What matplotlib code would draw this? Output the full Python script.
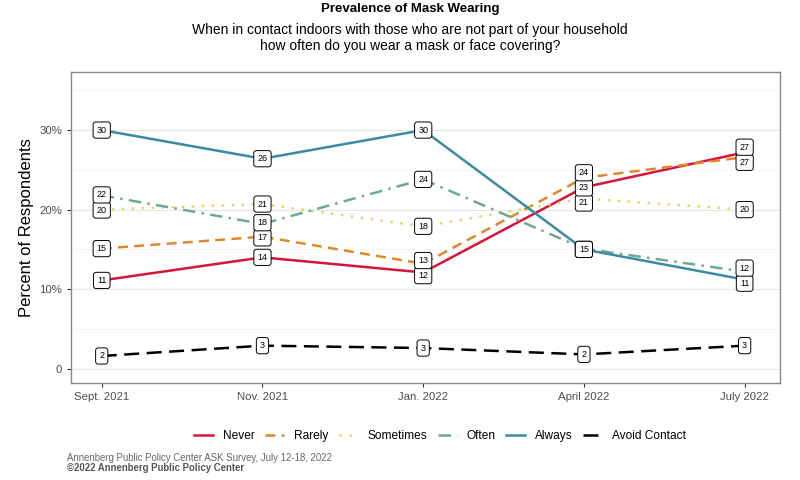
import matplotlib.pyplot as plt
import numpy as np
from matplotlib.lines import Line2D

plt.rcParams["font.family"] = ["Liberation Sans", "DejaVu Sans"]

# survey waves
waves = ["Sept. 2021", "Nov. 2021", "Jan. 2022", "April 2022", "July 2022"]

# percent of respondents per answer
never = [11.1, 14.0, 12.1, 22.8, 27.2]
rarely = [15.1, 16.6, 13.2, 24.0, 26.6]
sometimes = [20.0, 20.7, 17.9, 21.4, 20.0]
often = [21.8, 18.2, 23.8, 15.1, 12.2]
always = [30.0, 26.4, 30.0, 15.0, 11.2]
avoid = [1.6, 2.9, 2.6, 1.8, 2.9]

series = [
    ("Never", never, "#D7153A", "-"),
    ("Rarely", rarely, "#E0872B", (0, (4, 2.5))),
    ("Sometimes", sometimes, "#E3D66B", (0, (1, 3))),
    ("Often", often, "#6FA893", (0, (5, 2.5, 1, 2.5))),
    ("Always", always, "#3A8BA3", "-"),
    ("Avoid Contact", avoid, "#000000", (0, (6, 3))),
]

fig = plt.figure(figsize=(8, 4.8), dpi=100)
ax = fig.add_axes([0.089, 0.202, 0.886, 0.648])
x = np.arange(len(waves))

for name, vals, col, ls in series:
    ax.plot(x, vals, color=col, linestyle=ls, linewidth=1.8, zorder=3)

# simple label repel per wave
sep = 1.9
for i in range(len(waves)):
    pts = [(s[1][i], s[0]) for s in series]
    pts.sort()
    pos = [p[0] for p in pts]
    for _ in range(50):
        for j in range(1, len(pos)):
            gap = pos[j] - pos[j - 1]
            if abs(pts[j][0] - pts[j - 1][0]) <= 0.3:
                pos[j] = pos[j - 1]
            elif gap < sep:
                d = (sep - gap) / 2
                pos[j] += d
                pos[j - 1] -= d
    for (v, name), py in zip(pts, pos):
        ax.text(i, py, f"{int(v + 0.5)}", ha="center", va="center", fontsize=6.5,
                zorder=5,
                bbox=dict(boxstyle="round,pad=0.4,rounding_size=0.3",
                          fc="white", ec="black", lw=0.7))

ax.set_xlim(-0.19, 4.22)
ax.set_ylim(-1.8, 37.3)
ax.set_xticks(x)
ax.set_xticklabels(waves)
ax.set_yticks([0, 10, 20, 30])
ax.set_yticklabels(["0", "10%", "20%", "30%"])
ax.set_yticks([5, 15, 25, 35], minor=True)
ax.tick_params(axis="both", which="major", labelsize=8.2, labelcolor="#4d4d4d",
               color="#333333", length=3)
ax.tick_params(axis="y", which="minor", length=0)
ax.grid(axis="y", which="major", color="#e6e6e6", lw=0.8)
ax.grid(axis="y", which="minor", color="#f2f2f2", lw=0.6)
ax.set_axisbelow(True)
for sp in ax.spines.values():
    sp.set_color("#888888")
    sp.set_linewidth(1.0)
ax.set_ylabel("Percent of Respondents", fontsize=12, color="black")

fig.text(0.5125, 0.981, "Prevalence of Mask Wearing", ha="center", va="center",
         fontsize=9.5, fontweight="bold")
fig.text(0.5125, 0.921, "When in contact indoors with those who are not part of your household\n"
         "how often do you wear a mask or face covering?",
         ha="center", va="center", fontsize=10, linespacing=1.25)

handles = [Line2D([0], [0], color=c, linestyle=ls, lw=1.8) for _, _, c, ls in series]
fig.legend(handles, [s[0] for s in series], loc="center", bbox_to_anchor=(0.55, 0.092),
           ncol=6, frameon=False, fontsize=8.6, handlelength=1.6, columnspacing=0.9,
           handletextpad=0.8)

fig.text(0.084, 0.045, "Annenberg Public Policy Center ASK Survey, July 12-18, 2022",
         fontsize=6.9, color="#666666", va="center")
fig.text(0.084, 0.026, "\u00a92022 Annenberg Public Policy Center",
         fontsize=6.9, color="#555555", fontweight="bold", va="center")

fig.savefig("out.png", dpi=100)
